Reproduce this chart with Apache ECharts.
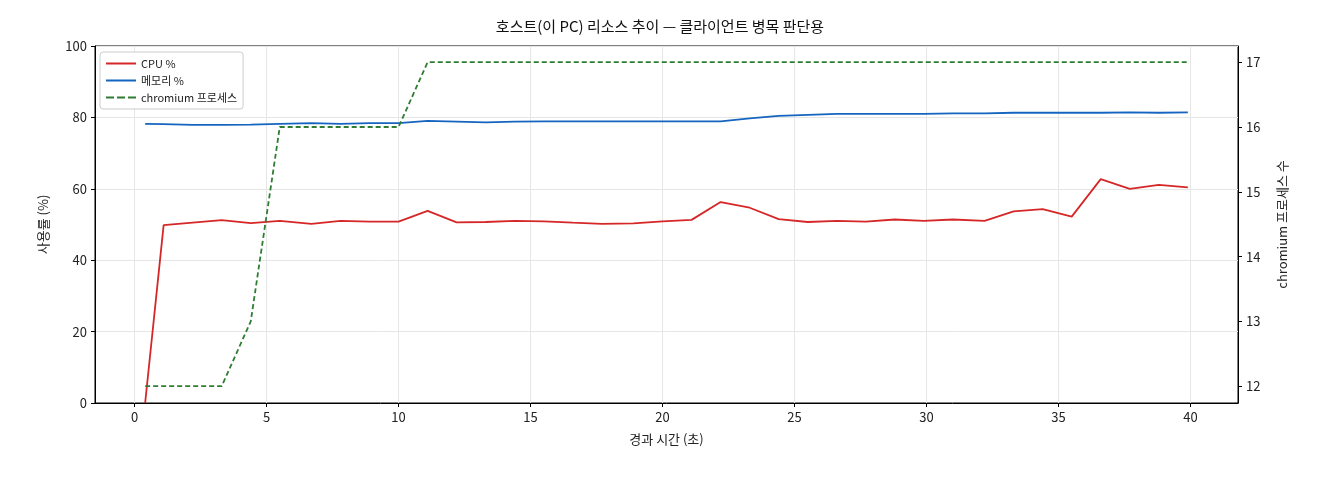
<!DOCTYPE html>
<html><head><meta charset="utf-8">
<script src="https://cdn.jsdelivr.net/npm/echarts@6/dist/echarts.min.js"></script>
<style>html,body{margin:0;background:#fff}#c{width:1320px;height:480px}</style>
</head><body><div id="c"></div>
<script>
const times=[0.4,1.1,2.2,3.3,4.4,5.5,6.7,7.8,8.9,10.0,11.1,12.2,13.3,14.4,15.5,16.6,17.7,18.9,20.0,21.1,22.2,23.3,24.4,25.5,26.6,27.7,28.8,29.9,31.0,32.2,33.3,34.4,35.5,36.6,37.7,38.8,39.9];
const cpu=[0,49.8,50.5,51.2,50.4,51,50.2,51,50.8,50.8,53.8,50.6,50.7,51,50.9,50.5,50.2,50.3,50.9,51.3,56.3,54.7,51.5,50.7,51,50.8,51.4,51,51.4,51,53.7,54.3,52.2,62.7,60,61.1,60.4];
const mem=[78.2,78.1,77.9,77.9,78.0,78.2,78.4,78.2,78.4,78.4,79.0,78.8,78.6,78.8,78.9,78.9,78.9,78.9,78.9,78.9,78.9,79.7,80.4,80.7,81.0,81.0,81.0,81.0,81.1,81.1,81.3,81.3,81.3,81.3,81.4,81.3,81.4];
const procs=[12,12,12,12,13,16,16,16,16,16,17,17,17,17,17,17,17,17,17,17,17,17,17,17,17,17,17,17,17,17,17,17,17,17,17,17,17];
const xTicks=[0,5,10,15,20,25,30,35,40];
const rTicks=[12,13,14,15,16,17];
const F='"Noto Sans CJK KR","Noto Sans",sans-serif';
const pair=a=>times.map((t,i)=>[t,a[i]]);
const ch=echarts.init(document.getElementById('c'));
const line={show:true,onZero:false,lineStyle:{color:'#000'}};
const lab={color:'#222',fontSize:13,fontFamily:F};
ch.setOption({
 animation:false,
 title:{text:'호스트(이 PC) 리소스 추이 — 클라이언트 병목 판단용',left:'center',top:14,textStyle:{fontSize:15,fontWeight:'normal',color:'#111',fontFamily:F}},
 grid:{left:95,right:82,top:46,bottom:77,show:true,borderColor:'#000',borderWidth:1},
 legend:{left:100,top:52,orient:'vertical',itemGap:6,itemWidth:30,itemHeight:2,backgroundColor:'rgba(255,255,255,0.9)',borderColor:'#ccc',borderWidth:1,borderRadius:3,padding:[6,6],textStyle:{fontSize:11,fontFamily:F,color:'#222'},
  data:[{name:'CPU %',icon:'rect'},{name:'메모리 %',icon:'rect'},{name:'chromium 프로세스',icon:'path://M0,0h8v2h-8zM11,0h8v2h-8zM22,0h8v2h-8z'}]},
 xAxis:{type:'value',min:-1.5,max:41.8,name:'경과 시간 (초)',nameLocation:'middle',nameGap:30,nameTextStyle:lab,axisLine:line,
   axisTick:{show:true,length:4,customValues:xTicks,lineStyle:{color:'#000'}},
   axisLabel:Object.assign({customValues:xTicks},lab),
   splitLine:{show:true,lineStyle:{color:'#e6e6e6'}}},
 yAxis:[
  {type:'value',min:0,max:100,interval:20,name:'사용률 (%)',nameLocation:'middle',nameGap:45,nameTextStyle:lab,axisLine:line,
   axisTick:{show:true,length:4,lineStyle:{color:'#000'}},axisLabel:lab,splitLine:{show:true,lineStyle:{color:'#e6e6e6'}}},
  {type:'value',min:11.74,max:17.25,position:'right',name:'chromium 프로세스 수',nameLocation:'middle',nameGap:38,nameRotate:90,nameTextStyle:lab,axisLine:line,splitLine:{show:false},
   axisTick:{show:true,length:4,customValues:rTicks,lineStyle:{color:'#000'}},
   axisLabel:Object.assign({customValues:rTicks},lab)}
 ],
 series:[
  {name:'CPU %',type:'line',data:pair(cpu),symbol:'none',lineStyle:{color:'#d62728',width:1.8},itemStyle:{color:'#d62728'}},
  {name:'메모리 %',type:'line',data:pair(mem),symbol:'none',lineStyle:{color:'#1565c0',width:1.8},itemStyle:{color:'#1565c0'}},
  {name:'chromium 프로세스',type:'line',yAxisIndex:1,data:pair(procs),symbol:'none',lineStyle:{color:'#2e7d32',width:1.8,type:[5,3]},itemStyle:{color:'#2e7d32'}}
 ]
});
</script></body></html>
